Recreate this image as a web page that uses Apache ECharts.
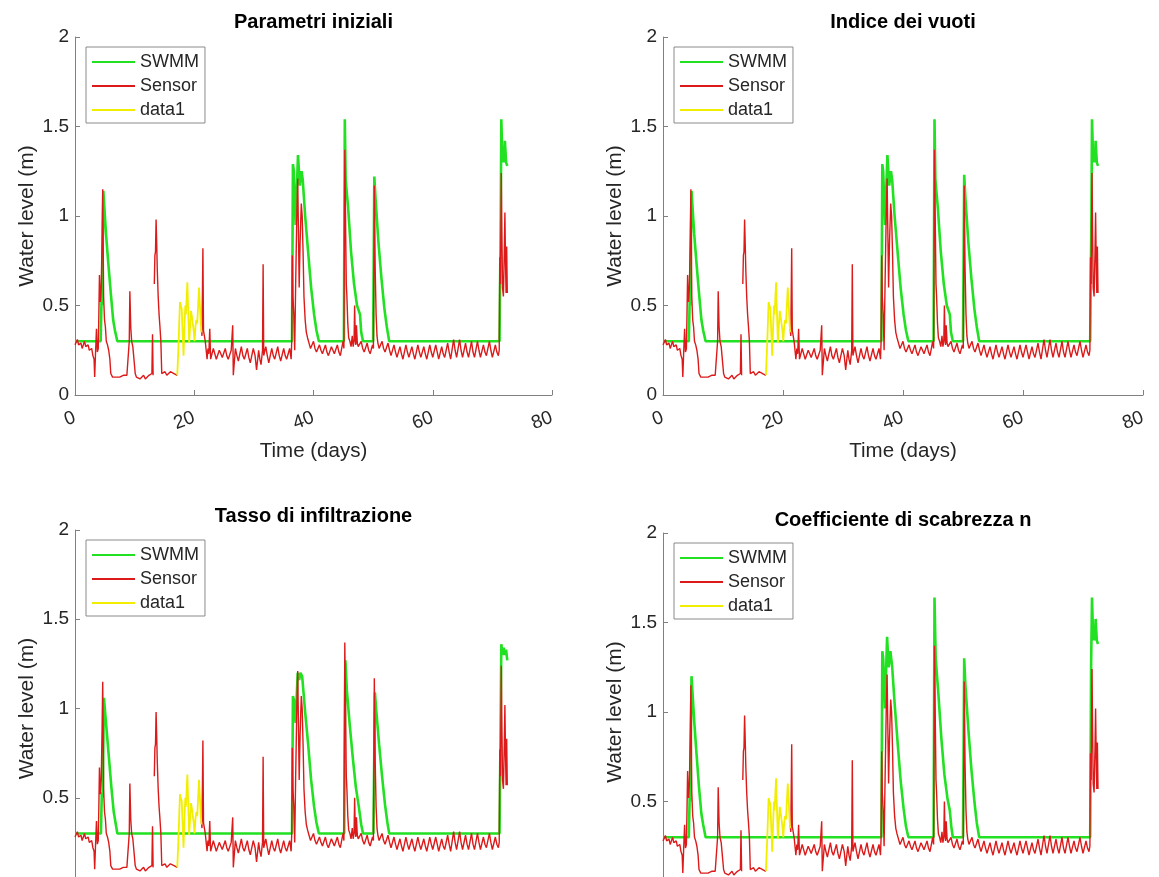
<!DOCTYPE html>
<html>
<head>
<meta charset="utf-8">
<script src="https://cdn.jsdelivr.net/npm/echarts@6/dist/echarts.min.js"></script>
<style>
  html, body { margin: 0; padding: 0; background: #fff; }
  #chart { width: 1159px; height: 877px; }
</style>
</head>
<body>
<div id="chart"></div>
<script>
// panel titles
var titles = ['Parametri iniziali', 'Indice dei vuoti', 'Tasso di infiltrazione', 'Coefficiente di scabrezza n'];
var xTicks = [0, 20, 40, 60, 80];
var yTicks = [0, 0.5, 1, 1.5, 2];

// measured water level (same in every panel), [day, m]; '-' = missing
var sensorLevel = [
  [0,0.28],[0.2,0.27],[0.4,0.31],[0.6,0.28],[0.8,0.27],[1.0,0.29],[1.2,0.26],[1.4,0.28],[1.6,0.3],[1.8,0.27],
  [2.0,0.26],[2.2,0.28],[2.4,0.25],[2.6,0.24],[2.8,0.26],[3.0,0.22],[3.2,0.2],[3.3,0.1],[3.45,0.24],[3.6,0.37],
  [3.75,0.24],[3.9,0.26],[4.0,0.45],[4.1,0.67],[4.25,0.52],[4.4,0.6],[4.55,0.9],[4.65,1.15],[4.8,0.55],[4.95,0.42],
  [5.1,0.38],[5.25,0.3],[5.45,0.28],[5.65,0.25],[5.85,0.2],[6.0,0.12],[6.3,0.1],[6.6,0.09],[6.9,0.1],[7.2,0.11],
  [7.5,0.1],[7.8,0.11],[8.1,0.11],[8.4,0.1],[8.7,0.11],[9.0,0.12],[9.1,0.3],[9.2,0.58],[9.35,0.38],[9.5,0.3],
  [9.7,0.27],[9.9,0.26],[10.1,0.12],[10.3,0.1],[10.6,0.11],[10.9,0.09],[11.2,0.1],[11.5,0.11],[11.8,0.09],[12.1,0.1],
  [12.4,0.11],[12.7,0.1],[12.9,0.12],[13.0,0.34],[13.1,0.11],[13.2,'-'],[13.3,0.62],[13.4,0.78],[13.5,0.8],[13.6,0.98],
  [13.7,0.85],[13.8,0.7],[13.95,0.55],[14.1,0.45],[14.25,0.38],[14.4,0.3],[14.55,0.12],[14.8,0.12],[15.1,0.13],[15.4,0.11],
  [15.7,0.12],[16.0,0.13],[16.3,0.12],[16.6,0.12],[16.9,0.11],[17.15,0.11],[17.2,'-'],
  [21.2,0.37],[21.3,0.33],[21.45,0.82],[21.55,0.36],[21.7,0.33],[21.85,0.3],[22.0,0.25],[22.15,0.2],[22.3,0.26],[22.45,0.23],
  [22.6,0.37],[22.75,0.2],[23.2,0.26],[23.45,0.23],[23.7,0.2],[24.2,0.25],[24.45,0.23],[24.7,0.21],[25.2,0.26],[25.45,0.22],
  [25.7,0.2],[26.2,0.25],[26.45,0.39],[26.55,0.11],[26.9,0.26],[27.15,0.22],[27.4,0.19],[27.9,0.27],[28.15,0.22],[28.4,0.2],
  [28.9,0.26],[29.15,0.21],[29.4,0.18],[29.9,0.26],[30.2,0.22],[30.45,0.14],[30.8,0.25],[31.0,0.2],[31.2,0.17],[31.45,0.25],
  [31.55,0.73],[31.65,0.22],[32.0,0.27],[32.25,0.22],[32.5,0.18],[33.0,0.26],[33.25,0.22],[33.5,0.2],[34.0,0.27],[34.25,0.22],
  [34.5,0.19],[35.0,0.26],[35.25,0.22],[35.5,0.2],[36.0,0.26],[36.25,0.2],[36.35,0.3],[36.45,0.78],[36.55,0.55],[36.7,0.45],
  [36.85,0.25],[37.0,0.6],[37.2,1.0],[37.35,1.21],[37.5,0.85],[37.6,0.6],[37.75,0.85],[37.95,1.07],[38.1,1.0],[38.25,0.8],
  [38.4,0.55],[38.6,0.42],[38.8,0.35],[39.0,0.32],[39.25,0.29],[39.5,0.26],[40.0,0.3],[40.25,0.26],[40.5,0.24],[41.0,0.28],
  [41.25,0.25],[41.5,0.23],[42.0,0.28],[42.25,0.24],[42.5,0.22],[43.0,0.27],[43.25,0.25],[43.5,0.23],[44.0,0.28],[44.25,0.24],
  [44.5,0.22],[44.95,0.3],[45.1,0.26],[45.25,1.37],[45.4,0.9],[45.5,0.62],[45.6,0.55],[45.75,0.4],[45.9,0.32],[46.1,0.3],
  [46.3,0.27],[46.5,0.33],[46.65,0.27],[46.8,0.3],[46.9,0.5],[47.0,0.32],[47.1,0.28],[47.2,0.39],[47.35,0.29],[47.5,0.27],
  [48.0,0.3],[48.25,0.26],[48.5,0.24],[49.0,0.29],[49.25,0.25],[49.5,0.23],[49.9,0.28],[50.05,0.26],[50.2,1.17],[50.35,0.7],
  [50.5,0.45],[50.65,0.33],[50.8,0.29],[51.0,0.26],[51.5,0.3],[51.75,0.26],[52.0,0.24],[52.5,0.29],[52.75,0.25],[53.0,0.22],
  [53.5,0.28],[53.75,0.24],[54.0,0.21],[54.5,0.27],[54.75,0.23],[55.0,0.2],[55.5,0.28],[55.75,0.24],[56.0,0.21],[56.5,0.27],
  [56.75,0.23],[57.0,0.2],[57.5,0.28],[57.75,0.24],[58.0,0.21],[58.5,0.27],[58.75,0.23],[59.0,0.2],[59.5,0.28],[59.75,0.24],
  [60.0,0.21],[60.5,0.28],[60.75,0.24],[61.0,0.2],[61.5,0.27],[61.75,0.23],[62.0,0.21],[62.5,0.29],[62.75,0.24],[63.0,0.2],
  [63.5,0.31],[63.75,0.25],[64.0,0.21],[64.5,0.31],[64.75,0.25],[65.0,0.21],[65.5,0.29],[65.75,0.24],[66.0,0.21],[66.5,0.3],
  [66.75,0.24],[67.0,0.21],[67.5,0.3],[67.75,0.25],[68.0,0.21],[68.5,0.28],[68.75,0.24],[69.0,0.22],[69.5,0.3],[69.75,0.25],
  [70.0,0.21],[70.5,0.28],[70.75,0.24],[71.0,0.22],[71.15,0.25],[71.25,0.77],[71.35,0.62],[71.5,1.24],[71.6,0.9],[71.7,0.6],
  [71.85,0.55],[72.0,0.8],[72.1,1.02],[72.2,0.75],[72.3,0.57],[72.4,0.83],[72.5,0.57]
];

// filled-in stretch of the record ("data1")
var data1Level = [
  [17.15,0.11],[17.35,0.27],[17.45,0.37],[17.6,0.52],[17.75,0.53],[17.9,0.48],[18.05,0.35],[18.2,0.22],[18.35,0.38],[18.5,0.5],
  [18.6,0.45],[18.75,0.56],[18.85,0.63],[19.0,0.45],[19.15,0.29],[19.3,0.38],[19.45,0.47],[19.6,0.44],[19.75,0.43],[19.9,0.36],
  [20.05,0.3],[20.2,0.38],[20.35,0.42],[20.5,0.4],[20.65,0.5],[20.8,0.6],[20.95,0.5],[21.1,0.4],[21.2,0.35]
];

// SWMM simulations, one per panel
var swmmInitial = [
  [0,0.3],[4.3,0.3],[4.45,0.53],[4.55,0.5],[4.75,1.14],[5.2,0.9],[5.6,0.73],[6.0,0.57],[6.4,0.42],[6.7,0.36],[6.9,0.35],[7.1,0.3],
  [36.4,0.3],[36.55,1.29],[36.7,1.25],[37.0,0.95],[37.4,1.34],[37.7,1.17],[38.0,1.25],[38.2,1.2],[38.6,1.0],[39.1,0.8],[39.6,0.6],
  [40.1,0.45],[40.5,0.36],[40.9,0.3],[45.1,0.3],[45.25,1.54],[45.4,1.2],[45.8,1.05],[46.3,0.8],[46.8,0.62],[47.3,0.5],[47.8,0.45],
  [48.0,0.35],[48.3,0.3],[50.0,0.3],[50.2,1.22],[50.4,1.1],[50.9,0.85],[51.4,0.65],[51.9,0.48],[52.3,0.38],[52.7,0.3],
  [71.2,0.3],[71.4,1.0],[71.5,1.54],[71.7,1.3],[71.85,1.35],[72.0,1.3],[72.1,1.42],[72.3,1.3],[72.5,1.28]
];
var swmmVoids = [
  [0,0.3],[4.3,0.3],[4.45,0.53],[4.55,0.5],[4.75,1.14],[5.2,0.9],[5.6,0.73],[6.0,0.57],[6.4,0.42],[6.7,0.36],[6.9,0.35],[7.1,0.3],
  [36.4,0.3],[36.55,1.29],[36.7,1.25],[37.0,0.95],[37.4,1.34],[37.7,1.17],[38.0,1.25],[38.2,1.2],[38.6,1.0],[39.1,0.8],[39.6,0.6],
  [40.1,0.45],[40.5,0.36],[40.9,0.3],[45.1,0.3],[45.25,1.54],[45.4,1.2],[45.8,1.05],[46.3,0.8],[46.8,0.62],[47.3,0.5],[47.8,0.45],
  [48.0,0.35],[48.3,0.3],[50.0,0.3],[50.2,1.23],[50.4,1.1],[50.9,0.85],[51.4,0.65],[51.9,0.48],[52.3,0.38],[52.7,0.3],
  [71.2,0.3],[71.4,1.0],[71.5,1.54],[71.7,1.3],[71.85,1.35],[72.0,1.3],[72.1,1.42],[72.3,1.3],[72.5,1.28]
];
var swmmInfiltration = [
  [0,0.3],[4.35,0.3],[4.5,0.53],[4.65,0.5],[4.85,1.06],[5.3,0.88],[5.7,0.72],[6.1,0.56],[6.5,0.42],[6.8,0.36],[7.1,0.3],
  [36.4,0.3],[36.55,1.07],[36.7,1.05],[37.0,0.92],[37.35,1.2],[37.6,1.16],[37.8,1.2],[38.1,1.18],[38.6,0.98],[39.1,0.8],[39.6,0.6],
  [40.1,0.45],[40.5,0.36],[40.9,0.3],[45.15,0.3],[45.35,1.27],[45.6,1.1],[46.1,0.9],[46.6,0.72],[47.1,0.56],[47.6,0.45],
  [48.0,0.35],[48.3,0.3],[50.05,0.3],[50.3,1.09],[50.5,1.0],[51.0,0.8],[51.5,0.62],[52.0,0.46],[52.4,0.36],[52.7,0.3],
  [71.2,0.3],[71.3,0.62],[71.5,1.36],[71.7,1.3],[71.9,1.34],[72.1,1.3],[72.3,1.33],[72.5,1.27]
];
var swmmRoughness = [
  [0,0.3],[4.3,0.3],[4.45,0.53],[4.55,0.5],[4.75,1.2],[5.2,0.95],[5.6,0.76],[6.0,0.58],[6.4,0.43],[6.7,0.37],[7.1,0.3],
  [36.4,0.3],[36.55,1.34],[36.7,1.3],[37.0,1.02],[37.35,1.42],[37.6,1.25],[37.9,1.34],[38.2,1.25],[38.6,1.05],[39.1,0.83],[39.6,0.62],
  [40.1,0.46],[40.5,0.36],[40.9,0.3],[45.1,0.3],[45.25,1.64],[45.45,1.3],[45.9,1.1],[46.4,0.85],[46.9,0.65],[47.4,0.52],[47.8,0.45],
  [48.05,0.36],[48.3,0.3],[50.0,0.3],[50.2,1.3],[50.4,1.15],[50.9,0.9],[51.4,0.68],[51.9,0.5],[52.3,0.38],[52.7,0.3],
  [71.2,0.3],[71.35,1.25],[71.5,1.64],[71.7,1.4],[71.85,1.45],[72.0,1.4],[72.1,1.52],[72.3,1.4],[72.5,1.38]
];

var swmmByPanel = [swmmInitial, swmmVoids, swmmInfiltration, swmmRoughness];

var font = 'Liberation Sans, Arial, Helvetica, sans-serif';
var txt = '#262626';
var axisCol = '#808080';
var green = '#22e022', red = '#dc1a1a', yellow = '#f2ee00';

// panel frames
var panels = [
  {left: 75, top: 37, width: 477, height: 358, titleY: 12, legendTop: 47},
  {left: 663, top: 37, width: 480, height: 358, titleY: 12, legendTop: 47},
  {left: 75, top: 530, width: 477, height: 357, titleY: 506, legendTop: 540},
  {left: 663, top: 533, width: 480, height: 358, titleY: 510, legendTop: 543}
];

var grid = [], xAxis = [], yAxis = [], series = [], title = [], legend = [];

panels.forEach(function (p, i) {
  grid.push({left: p.left, top: p.top, width: p.width, height: p.height,
    containLabel: false, outerBoundsMode: 'none'});
  title.push({
    text: titles[i], left: p.left + p.width / 2, top: p.titleY, textAlign: 'center', padding: 0,
    textStyle: {fontFamily: font, fontSize: 20, fontWeight: 'bold', color: '#000'}
  });
  legend.push({
    data: ['SWMM', 'Sensor', 'data1'], orient: 'vertical', left: p.left + 11, top: p.legendTop,
    itemWidth: 43, itemHeight: 18, itemGap: 6, padding: [6, 6, 4, 5],
    borderColor: '#8a8a8a', borderWidth: 1, backgroundColor: '#fff',
    selectedMode: false,
    itemStyle: {color: 'rgba(0,0,0,0)', borderWidth: 0},
    textStyle: {fontFamily: font, fontSize: 18, color: txt}
  });
  xAxis.push({
    gridIndex: i, type: 'value', min: 0, max: 80, interval: 20,
    name: 'Time (days)', nameLocation: 'middle', nameGap: 46,
    nameTextStyle: {fontFamily: font, fontSize: 20.5, color: txt},
    axisLine: {lineStyle: {color: axisCol}},
    axisTick: {inside: true, length: 5, lineStyle: {color: axisCol}},
    axisLabel: {rotate: 20, margin: 22, fontFamily: font, fontSize: 19, color: txt},
    splitLine: {show: false}
  });
  yAxis.push({
    gridIndex: i, type: 'value', min: 0, max: 2, interval: 0.5,
    name: 'Water level (m)', nameLocation: 'middle', nameGap: 37,
    nameTextStyle: {fontFamily: font, fontSize: 21, color: txt},
    axisLine: {show: true, lineStyle: {color: axisCol}},
    axisTick: {show: true, inside: true, length: 5, lineStyle: {color: axisCol}},
    axisLabel: {margin: 6, fontFamily: font, fontSize: 19, color: txt,
      formatter: function (v) { return String(v); }},
    splitLine: {show: false}
  });
  series.push({
    name: 'SWMM', type: 'line', xAxisIndex: i, yAxisIndex: i, data: swmmByPanel[i],
    symbol: 'circle', showSymbol: false, lineStyle: {color: green, width: 2.6}, itemStyle: {color: green}
  });
  series.push({
    name: 'Sensor', type: 'line', xAxisIndex: i, yAxisIndex: i, data: sensorLevel, connectNulls: false,
    symbol: 'circle', showSymbol: false, lineStyle: {color: red, width: 1.4}, itemStyle: {color: red}
  });
  series.push({
    name: 'data1', type: 'line', xAxisIndex: i, yAxisIndex: i, data: data1Level,
    symbol: 'circle', showSymbol: false, lineStyle: {color: yellow, width: 1.8}, itemStyle: {color: yellow}
  });
});

var myChart = echarts.init(document.getElementById('chart'));
myChart.setOption({
  animation: false,
  title: title,
  legend: legend,
  grid: grid,
  xAxis: xAxis,
  yAxis: yAxis,
  series: series
});
</script>
</body>
</html>
